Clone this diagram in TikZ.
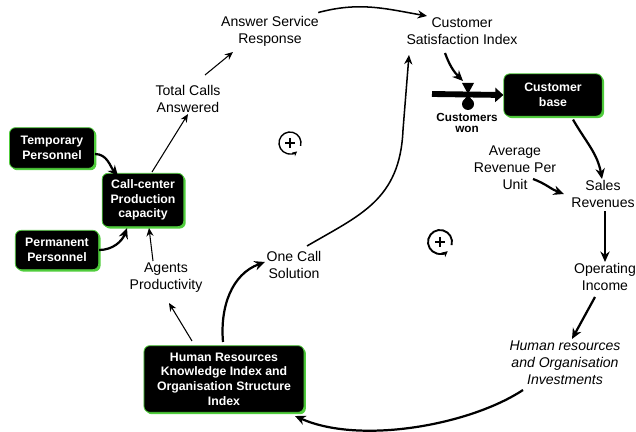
\documentclass[tikz,border=0pt]{standalone}
\usepackage{fontspec}
\setmainfont{Liberation Sans}
\usetikzlibrary{arrows.meta,shadows,calc}
\definecolor{boxgreen}{RGB}{80,205,60}
\tikzset{
  stock/.style={rectangle, rounded corners=5pt, fill=black, draw=boxgreen, line width=0.7pt,
    text=white, font=\bfseries\fontsize{10.5}{12.5}\selectfont, align=center, inner sep=2pt,
    drop shadow={shadow xshift=1.6pt, shadow yshift=-1.6pt, fill=boxgreen, opacity=1}},
  var/.style={font=\fontsize{12}{14.5}\selectfont, align=center, inner sep=1pt},
  thinarr/.style={line width=0.9pt, -{Stealth[length=7pt,width=6pt]}},
  medarr/.style={line width=1.3pt, -{Stealth[length=8pt,width=7pt]}},
  thickarr/.style={line width=1.9pt, -{Stealth[length=9pt,width=8pt]}},
  loopmark/.style={line width=1.2pt}
}
\begin{document}
\begin{tikzpicture}[x=0.03cm,y=-0.03cm]
\useasboundingbox (0,0) rectangle (636,432);
% stocks
\node[stock, minimum width=2.55cm, minimum height=1.22cm] (temp) at (52,148) {Temporary\\Personnel};
\node[stock, minimum width=2.45cm, minimum height=1.6cm] (cc) at (143,200) {Call-center\\Production\\capacity};
\node[stock, minimum width=2.5cm, minimum height=1.18cm] (perm) at (57,250) {Permanent\\Personnel};
\node[stock, minimum width=2.95cm, minimum height=1.27cm] (cb) at (553,95) {Customer\\base};
\node[stock, minimum width=4.8cm, minimum height=2.0cm] (hr) at (224,379) {Human Resources\\Knowledge Index and\\Organisation Structure\\Index};
% variables
\node[var] (asr) at (270,31) {Answer Service\\Response};
\node[var] (csi) at (462,31) {Customer\\Satisfaction Index};
\node[var] (tca) at (188,99) {Total Calls\\Answered};
\node[var] (ap) at (166,278) {Agents\\Productivity};
\node[var] (ocs) at (294,265) {One Call\\Solution};
\node[var] (arpu) at (515,168) {Average\\Revenue Per\\Unit};
\node[var] (sr) at (603,194) {Sales\\Revenues};
\node[var] (oi) at (605,277) {Operating\\Income};
\node[var, font=\itshape\fontsize{12}{14.5}\selectfont] (hri) at (565,363) {Human resources\\and Organisation\\Investments};
% flow / valve
\coordinate (pipeL) at (432,94);
\coordinate (valve) at (468,94);
\draw[line width=5pt, -{Triangle[length=7pt,width=12pt]}] (pipeL) -- (cb.west);
\fill (valve) -- ++(-6,-11) -- ++(12,0) -- cycle;
\fill (valve) -- ++(-5,8) -- ++(10,0) -- cycle;
\fill ($(valve)+(0,10)$) circle[radius=0.18cm];
\node[font=\bfseries\fontsize{10}{10}\selectfont, align=center, inner sep=0pt] (won) at (467,123) {Customers\\won};
% connectors
\draw[thickarr] (temp.east) ++(0,6) coordinate (t1) to[out=0,in=130] (118,176) coordinate (t2);
\draw[thickarr] (perm.east) to[out=0,in=-110] (127,228);
\draw[thinarr] (152,172) -- (tca.south);
\draw[thinarr] (205,75) -- (233,52);
\draw[medarr] (asr.north east) ++(-2,-2) coordinate (a1) to[out=15,in=170] (427,16);
\draw[thickarr] (445,53) to[out=-70,in=135] (463,81);
\draw[thickarr] (cb.south) ++(20,3) coordinate (c1) to[out=-60,in=100] (602,179);
\draw[thickarr] (533,179) to[out=-20,in=160] (564,194);
\draw[thickarr] (sr.south) ++(2,2) coordinate (s1) -- (605,262);
\draw[thickarr] (595,297) -- (572,339);
\draw[thickarr] (523,390) .. controls (470,425) and (360,445) .. (295,416);
\draw[thickarr] (223,342) to[out=95,in=200] (265,262);
\draw[thinarr] (192,341) -- (169,303);
\draw[thinarr] (153,261) -- (149,228);
\draw[medarr] (307,246) .. controls (360,215) and (400,200) .. (403,130) -- (409,55);
% loop markers
\coordinate (L1) at (290,143);
\coordinate (L2) at (440,242);
\draw[loopmark, -{Stealth[length=4pt,width=4pt]}] ($(L1)+(15:11)$) arc[start angle=15, end angle=-310, radius=11];
\draw[line width=1.1pt] ($(L1)+(-5,0)$) -- ($(L1)+(5,0)$) ($(L1)+(0,-5)$) -- ($(L1)+(0,5)$);
\draw[line width=1.6pt, -{Stealth[length=5pt,width=5pt]}] ($(L2)+(15:12)$) arc[start angle=15, end angle=-310, radius=12];
\draw[line width=1.3pt] ($(L2)+(-5,0)$) -- ($(L2)+(5,0)$) ($(L2)+(0,-5)$) -- ($(L2)+(0,5)$);
\end{tikzpicture}
\end{document}
